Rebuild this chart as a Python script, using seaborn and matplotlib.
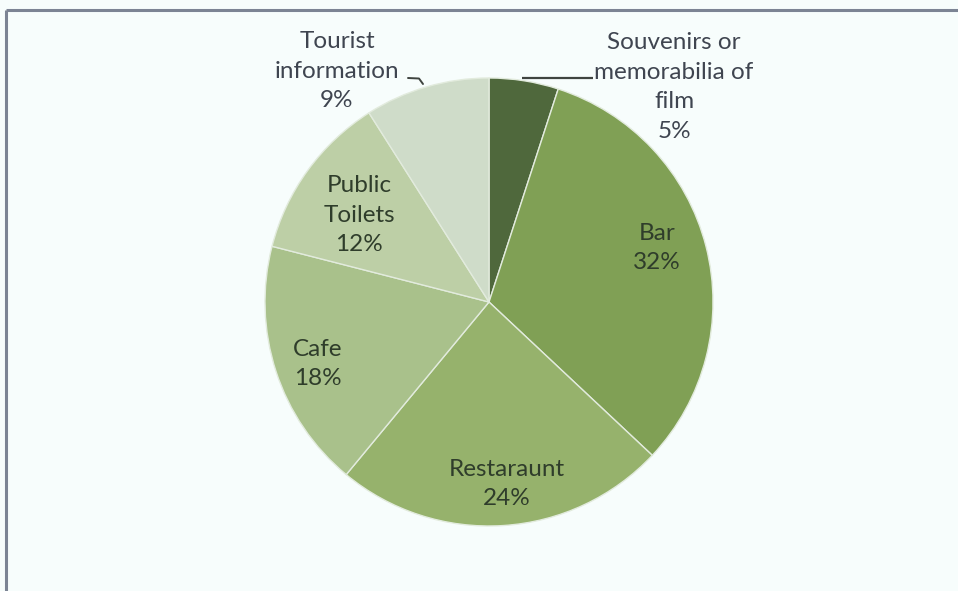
import numpy as np
import matplotlib
matplotlib.use("Agg")
import matplotlib.pyplot as plt
import seaborn as sns

# Facilities visitors would like to find, share of responses (%)
categories = ["Souvenirs or\nmemorabilia of\nfilm", "Bar", "Restaraunt", "Cafe",
              "Public\nToilets", "Tourist\ninformation"]
shares = [5, 32, 24, 18, 12, 9]

sns.set_theme(style="white")
plt.rcParams["font.family"] = ["Lato", "DejaVu Sans"]

colors = ["#4f683c", "#80a055", "#96b26c", "#a9c18b", "#bdcfa6", "#cfdcc9"]
bg = "#f7fdfc"

W, H = 958, 591
fig = plt.figure(figsize=(W / 100, H / 100), dpi=100, facecolor=bg)
ax = fig.add_axes([0, 0, 1, 1])
ax.set_facecolor(bg)

cx, cy, R = 489, H - 302, 224
wedges, _ = ax.pie(shares, colors=colors, startangle=90, counterclock=False,
                   center=(cx, cy), radius=R, frame=True,
                   wedgeprops=dict(linewidth=1.0, edgecolor="#e2ebdd"))
ax.set_xlim(0, W)
ax.set_ylim(0, H)
ax.axis("off")

# label anchors (pixels from the top-left corner), best-fit placement
label_xy = [(674, 87), (657, 248), (507, 484), (318, 364), (359, 215), (337, 71)]
outside = {0, 5}
inner_color = "#2f3d2b"
outer_color = "#3f4550"
fs = 17.5
ls = 1.5

for i, (cat, val) in enumerate(zip(categories, shares)):
    x, y = label_xy[i]
    ax.text(x, H - y, f"{cat}\n{val}%", ha="center", va="center",
            fontsize=fs, linespacing=ls,
            color=outer_color if i in outside else inner_color)

# leader lines for the labels set outside the pie
ax.plot([522, 593], [H - 78, H - 78], color="#3f4440", lw=1.6, solid_capstyle="butt")
ax.plot([408, 419, 423], [H - 78, H - 78.5, H - 84], color="#3f4440", lw=1.4)

# outer frame (top and left borders)
ax.plot([6, W + 5], [H - 10, H - 10], color="#7c8494", lw=2.2, solid_capstyle="butt")
ax.plot([6, 6], [H - 10, -5], color="#7c8494", lw=2.2, solid_capstyle="butt")

fig.savefig("out.png", dpi=100, facecolor=bg)
